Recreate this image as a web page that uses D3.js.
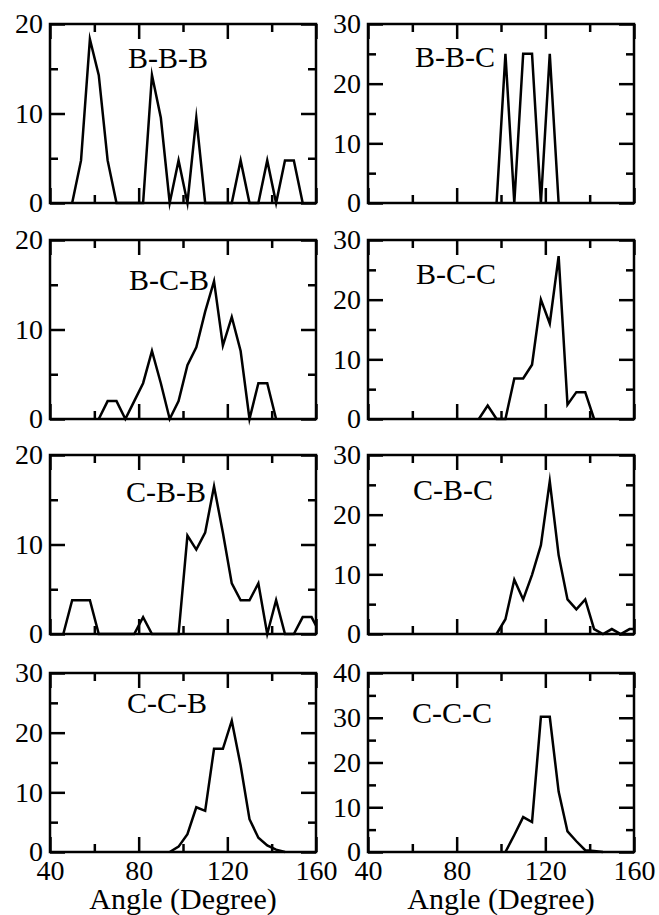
<!DOCTYPE html>
<html>
<head>
<meta charset="utf-8">
<script src="https://cdn.jsdelivr.net/npm/d3@7"></script>
<style>
  body { margin: 0; background: #fff; }
  svg { display: block; }
</style>
</head>
<body>
<div id="chart"><svg></svg></div>
<script>
// bond angle distributions, percent per 4 degree bin
const panelNames = ['B-B-B', 'B-B-C', 'B-C-B', 'B-C-C', 'C-B-B', 'C-B-C', 'C-C-B', 'C-C-C']
const yMax = [20, 30, 20, 30, 20, 30, 30, 40]
const xTicksMajor = [40, 80, 120, 160]
const xTicksMinor = [60, 100, 140]

const bbbAngle = [50, 54, 58, 62, 66, 70, 74, 78, 82, 86, 90, 94, 98, 102, 106, 110, 114, 118, 122, 126, 130, 134, 138, 142, 146, 150, 154]
const bbbValue = [0, 4.76, 18.3, 14.29, 4.76, 0, 0, 0, 0, 14.29, 9.52, 0, 4.76, 0, 9.52, 0, 0, 0, 0, 4.76, 0, 0, 4.76, 0, 4.76, 4.76, 0]

const bbcAngle = [98, 102, 106, 110, 114, 118, 122, 126]
const bbcValue = [0, 25, 0, 25, 25, 0, 25, 0]

const bcbAngle = [62, 66, 70, 74, 78, 82, 86, 90, 94, 98, 102, 106, 110, 114, 118, 122, 126, 130, 134, 138, 142]
const bcbValue = [0, 2, 2, 0, 2, 4, 7.6, 4, 0, 2, 6, 8, 12, 15.4, 8.2, 11.4, 7.6, 0, 4, 4, 0]

const bccAngle = [90, 94, 98, 102, 106, 110, 114, 118, 122, 126, 130, 134, 138, 142]
const bccValue = [0, 2.27, 0, 0, 6.8, 6.8, 9.1, 20, 16, 27.3, 2.4, 4.5, 4.5, 0]

const cbbAngle = [46, 50, 54, 58, 62, 66, 70, 74, 78, 82, 86, 90, 94, 98, 102, 106, 110, 114, 118, 122, 126, 130, 134, 138, 142, 146, 150, 154, 158, 162]
const cbbValue = [0, 3.77, 3.77, 3.77, 0, 0, 0, 0, 0, 1.89, 0, 0, 0, 0, 11, 9.43, 11.32, 16.5, 11.32, 5.66, 3.77, 3.77, 5.66, 0, 3.77, 0, 0, 1.89, 1.89, 0]

const cbcAngle = [98, 102, 106, 110, 114, 118, 122, 126, 130, 134, 138, 142, 146, 150, 154, 158, 162]
const cbcValue = [0, 2.48, 9.09, 5.79, 9.92, 14.88, 25.6, 13.22, 5.79, 4.13, 5.79, 0.83, 0, 0.83, 0, 0.83, 0.83]

const ccbAngle = [94, 98, 102, 106, 110, 114, 118, 122, 126, 130, 134, 138, 142, 146]
const ccbValue = [0, 0.9, 3, 7.5, 6.9, 17.3, 17.3, 22, 14.5, 5.5, 2.4, 1.1, 0.4, 0]

const cccAngle = [102, 106, 110, 114, 118, 122, 126, 130, 134, 138, 142, 146]
const cccValue = [0, 3.8, 7.8, 6.7, 30.2, 30.2, 13.5, 4.6, 2.4, 0.4, 0.2, 0]

const angles = [bbbAngle, bbcAngle, bcbAngle, bccAngle, cbbAngle, cbcAngle, ccbAngle, cccAngle]
const values = [bbbValue, bbcValue, bcbValue, bccValue, cbbValue, cbcValue, ccbValue, cccValue]

// layout
const colX = [50, 368]
const rowY = [24, 240, 455, 673]
const plotW = 266
const plotH = 179
const labelPos = [[78, 44], [47, 43], [79, 50], [48, 44], [76, 47], [45, 45], [77, 40], [44, 50]]
const font = '"Liberation Serif", "Times New Roman", serif'

const svg = d3.select('#chart svg')
  .attr('width', 659)
  .attr('height', 915)

svg.append('rect')
  .attr('width', 659)
  .attr('height', 915)
  .attr('fill', '#fff')

const x = d3.scaleLinear().domain([40, 160]).range([0, plotW])

panelNames.forEach(function(name, i) {
  const col = i % 2
  const row = Math.floor(i / 2)
  const isBottom = row === 3
  const y = d3.scaleLinear().domain([0, yMax[i]]).range([plotH, 0])
  const yMajor = d3.range(0, yMax[i] + 1, 10)
  const yMinor = d3.range(5, yMax[i], 10)

  const g = svg.append('g')
    .attr('transform', 'translate(' + colX[col] + ',' + rowY[row] + ')')

  // clip only left/right so miter tips can poke below the axis
  svg.append('clipPath')
    .attr('id', 'clip' + i)
    .append('rect')
    .attr('x', 0)
    .attr('y', -20)
    .attr('width', plotW)
    .attr('height', plotH + 40)

  const pts = angles[i].map(function(a, k) { return [a, values[i][k]] })
  g.append('path')
    .datum(pts)
    .attr('clip-path', 'url(#clip' + i + ')')
    .attr('fill', 'none')
    .attr('stroke', '#000')
    .attr('stroke-width', 2.5)
    .attr('stroke-linejoin', 'miter')
    .attr('stroke-miterlimit', 10)
    .attr('d', d3.line().x(d => x(d[0])).y(d => y(d[1])))

  // ticks on all four sides, pointing inward
  const axes = [
    [d3.axisBottom(x).tickValues(xTicksMajor).tickSize(-15), 'translate(0,' + plotH + ')', isBottom],
    [d3.axisBottom(x).tickValues(xTicksMinor).tickSize(-8), 'translate(0,' + plotH + ')', false],
    [d3.axisTop(x).tickValues(xTicksMajor).tickSize(-15), null, false],
    [d3.axisTop(x).tickValues(xTicksMinor).tickSize(-8), null, false],
    [d3.axisLeft(y).tickValues(yMajor).tickSize(-15), null, true],
    [d3.axisLeft(y).tickValues(yMinor).tickSize(-8), null, false],
    [d3.axisRight(y).tickValues(yMajor).tickSize(-15), 'translate(' + plotW + ',0)', false],
    [d3.axisRight(y).tickValues(yMinor).tickSize(-8), 'translate(' + plotW + ',0)', false]
  ]
  axes.forEach(function(a) {
    const ax = a[0].tickPadding(a[0] === axes[0][0] ? 8 : 7)
    if (!a[2]) ax.tickFormat('')
    const ag = g.append('g')
    if (a[1]) ag.attr('transform', a[1])
    ag.call(ax)
    ag.select('.domain').remove()
    ag.selectAll('line').attr('stroke', '#000').attr('stroke-width', 2.5)
    ag.selectAll('text')
      .attr('fill', '#000')
      .attr('font-family', font)
      .attr('font-size', '28px')
  })

  g.append('rect')
    .attr('width', plotW)
    .attr('height', plotH)
    .attr('fill', 'none')
    .attr('stroke', '#000')
    .attr('stroke-width', 2.5)

  g.append('text')
    .attr('x', labelPos[i][0])
    .attr('y', labelPos[i][1])
    .attr('font-family', font)
    .attr('font-size', '30px')
    .attr('fill', '#000')
    .text(name)

  if (isBottom) {
    g.append('text')
      .attr('x', plotW / 2)
      .attr('y', 909 - rowY[row])
      .attr('text-anchor', 'middle')
      .attr('font-family', font)
      .attr('font-size', '30px')
      .attr('fill', '#000')
      .text('Angle (Degree)')
  }
})
</script>
</body>
</html>
